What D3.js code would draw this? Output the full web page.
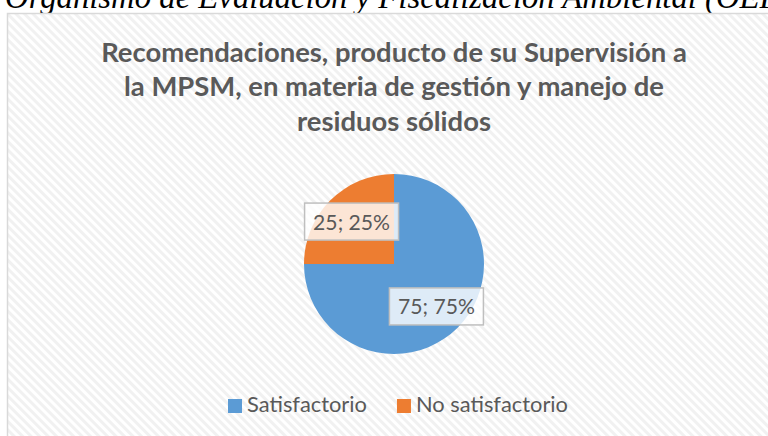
<!DOCTYPE html>
<html lang="es">
<head>
<meta charset="UTF-8">
<title>Recomendaciones MPSM</title>
<script src="https://d3js.org/d3.v7.min.js"></script>
<style>
  html, body { margin: 0; padding: 0; background: #fff; overflow: hidden; }
  svg { display: block; }
</style>
</head>
<body>
<svg id="canvas" width="768" height="436"></svg>
<script>
// data
let categories = ['Satisfactorio', 'No satisfactorio']
let values = [75, 25]
let percents = ['75%', '25%']
let colors = ['#5b9bd5', '#ed7d31']
let titleLines = [
  'Recomendaciones, producto de su Supervisión a',
  'la MPSM, en materia de gestión y manejo de',
  'residuos sólidos'
]
let headerText = 'Organismo de Evaluación y Fiscalización Ambiental (OEFA)'

let svg = d3.select('#canvas')
let sans = "Lato, 'Open Sans', 'DejaVu Sans', sans-serif"

// scale a text's font size so its width hits a target
let fitWidth = (sel, base, target) => {
  sel.attr('font-size', base)
  let w = sel.node().getComputedTextLength()
  sel.attr('font-size', base * target / w)
}

// stripe pattern for the chart area
let defs = svg.append('defs')
let pat = defs.append('pattern')
  .attr('id', 'stripes')
  .attr('patternUnits', 'userSpaceOnUse')
  .attr('width', 6).attr('height', 6)
  .attr('patternTransform', 'rotate(-45)')
pat.append('rect').attr('width', 6).attr('height', 6).attr('fill', '#ffffff')
pat.append('rect').attr('width', 3).attr('height', 6).attr('fill', '#f1f1f1')

// cut-off document text above the chart
let header = svg.append('text')
  .attr('x', 5).attr('y', 8)
  .attr('font-family', "'Liberation Serif', 'DejaVu Serif', serif")
  .attr('font-style', 'italic')
  .attr('fill', '#000')
  .text(headerText.slice(0, headerText.indexOf('(')))
fitWidth(header, 26, 692)
header.text(headerText)

// chart frame
svg.append('rect')
  .attr('x', 7.5).attr('y', 13.5)
  .attr('width', 820).attr('height', 500)
  .attr('fill', 'url(#stripes)')
  .attr('stroke', '#d9d9d9')
  .attr('stroke-width', 1.5)

// title
let title = svg.append('text')
  .attr('text-anchor', 'middle')
  .attr('font-family', sans)
  .attr('font-weight', 'bold')
  .attr('fill', '#595959')
title.selectAll('tspan')
  .data(titleLines)
  .enter()
  .append('tspan')
  .attr('x', 394)
  .attr('y', (d, i) => 62 + i * 34.3)
  .text(d => d)
title.attr('font-size', 24)
let tw = title.select('tspan').node().getComputedTextLength()
title.attr('font-size', 24 * 586 / tw)

// pie
let cx = 394, cy = 264, r = 90
let pie = d3.pie().sort(null).value(d => d)
let arcs = pie(values)
let arc = d3.arc().innerRadius(0).outerRadius(r)
let labelArc = d3.arc().innerRadius(r * 2 / 3).outerRadius(r * 2 / 3)

let g = svg.append('g').attr('transform', `translate(${cx},${cy})`)
g.selectAll('path')
  .data(arcs)
  .enter()
  .append('path')
  .attr('d', arc)
  .attr('fill', (d, i) => colors[i])

// data labels
let labels = g.selectAll('g.lbl')
  .data(arcs)
  .enter()
  .append('g')
  .attr('class', 'lbl')
  .attr('transform', d => `translate(${labelArc.centroid(d)})`)
labels.append('rect')
  .attr('x', -47).attr('y', -18.5)
  .attr('width', 94).attr('height', 37)
  .attr('fill', '#ffffff')
  .attr('fill-opacity', 0.8)
  .attr('stroke', '#bfbfbf')
  .attr('stroke-width', 1.5)
labels.append('text')
  .attr('text-anchor', 'middle')
  .attr('y', 8)
  .attr('font-family', sans)
  .attr('fill', '#595959')
  .text((d, i) => values[i] + '; ' + percents[i])
  .each(function () { fitWidth(d3.select(this), 20, 77) })

// legend
let legend = svg.append('g')
let items = legend.selectAll('g')
  .data(categories)
  .enter()
  .append('g')
items.append('rect')
  .attr('y', 399)
  .attr('width', 14).attr('height', 14)
  .attr('fill', (d, i) => colors[i])
let legendText = items.append('text')
  .attr('x', 19)
  .attr('y', 412)
  .attr('font-family', sans)
  .attr('fill', '#595959')
  .text(d => d)
fitWidth(legendText.filter((d, i) => i === 0), 20, 120)
legendText.attr('font-size', legendText.filter((d, i) => i === 0).attr('font-size'))
let widths = []
items.each(function () { widths.push(19 + d3.select(this).select('text').node().getComputedTextLength()) })
let gap = 30
let total = d3.sum(widths) + gap * (widths.length - 1)
let lx = 398 - total / 2
items.attr('transform', (d, i) => {
  let x = lx
  lx += widths[i] + gap
  return `translate(${x},0)`
})
</script>
</body>
</html>
